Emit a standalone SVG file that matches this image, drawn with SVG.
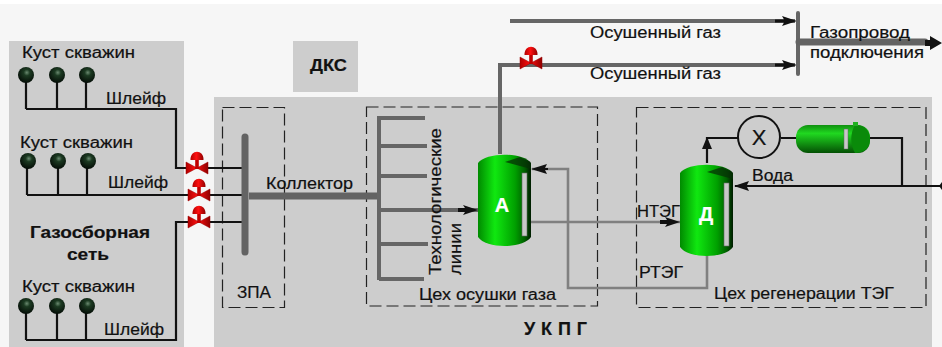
<svg xmlns="http://www.w3.org/2000/svg" width="942" height="347" viewBox="0 0 942 347">
<style>
text{font-family:"Liberation Sans",Arial,sans-serif;font-size:16px;fill:#111;stroke:#111;stroke-width:.2}
.b{font-weight:bold}
.w{fill:#fff;stroke:#fff;font-size:20px}
.panel{fill:#cdcdcd}
.dash{fill:none;stroke:#222;stroke-width:1.2;stroke-dasharray:12 5}
.k{fill:none;stroke:#111;stroke-width:2.2}
.g{fill:none;stroke:#666;stroke-width:4}
.t{fill:none;stroke:#808080;stroke-width:2.6}
.bar{fill:none;stroke:#636363;stroke-width:7}
.ah{fill:#111}
</style>
<defs>
<radialGradient id="well" cx="0.55" cy="0.35" r="0.65"><stop offset="0" stop-color="#6a8a70"/><stop offset="0.3" stop-color="#1c3a22"/><stop offset="1" stop-color="#040c06"/></radialGradient>
<linearGradient id="cyl" x1="0" x2="1" y1="0" y2="0"><stop offset="0" stop-color="#008a00"/><stop offset="0.32" stop-color="#10e810"/><stop offset="0.7" stop-color="#00a000"/><stop offset="0.88" stop-color="#006000"/><stop offset="1" stop-color="#001c00"/></linearGradient>
<linearGradient id="hor" x1="0" x2="0" y1="0" y2="1"><stop offset="0" stop-color="#109010"/><stop offset="0.3" stop-color="#20d820"/><stop offset="1" stop-color="#045004"/></linearGradient>
<linearGradient id="red" x1="0" x2="1" y1="0" y2="0"><stop offset="0" stop-color="#b00000"/><stop offset="0.45" stop-color="#ff1010"/><stop offset="1" stop-color="#900000"/></linearGradient>
<symbol id="valve" overflow="visible"><path d="M-11 -6L0 0 11 -6V6L0 0-11 6Z" fill="url(#red)" stroke="#900" stroke-width=".5"/><rect x="-1.800" y="-9" width="3.600" height="10" fill="#c00000"/><path d="M-6.500 -8C-7 -19 7 -19 6.500 -8Z" fill="url(#red)"/></symbol>
<symbol id="wellhead" overflow="visible"><circle r="8" fill="url(#well)"/></symbol>
<symbol id="vessel" overflow="visible"><path d="M0 8C8 -3 45 -3 53 8V82C45 94 8 94 0 82Z" fill="url(#cyl)"/><path d="M27 7L42 2 53 8V14Z" fill="#063006" opacity=".75"/><rect x="44" y="18" width="5" height="63" fill="#c8c8c8" stroke="#666" stroke-width=".6"/></symbol>
</defs>
<rect width="942" height="347" fill="#fff"/>
<rect y="4" width="942" height="343" fill="#f6f6f6"/>
<g id="panels">
<rect class="panel" x="9" y="41" width="175" height="306"/>
<rect class="panel" x="293" y="41" width="65" height="51"/>
<rect class="panel" x="214" y="97" width="718" height="250"/>
<rect class="dash" x="222.500" y="107.500" width="62" height="200"/>
<rect class="dash" x="366.500" y="107" width="231" height="199"/>
<rect class="dash" x="636.500" y="107.500" width="289.500" height="200"/>
</g>
<g id="connectors">
<path class="k" d="M26 75V109M57 75V109M86 75V109M26 109H176V168H243"/>
<path class="k" d="M27 161V195M58 161V195M87 161V195M27 195H243"/>
<path class="k" d="M26 306V340M57 306V340M86 306V340M26 340H176V222H245"/>
<path class="bar" style="stroke-linecap:round" d="M245 137V252"/>
<path class="bar" d="M249 196H378"/>
<path class="g" d="M379 116V280M379 118H425M379 146H427M379 176H427M379 244H428M379 279H424"/>
<path class="g" d="M379 210H478"/>
<path class="ah" d="M478 210L463 205 465 208H458V212H465L463 215Z"/>
<path class="g" d="M500 154V65H795"/>
<path class="g" d="M510 21H795"/>
<path class="ah" d="M797 21L782 16 784 19.500H775V22.500H784L782 26Z"/>
<path class="ah" d="M797 65L782 60 784 63.500H775V66.500H784L782 70Z"/>
<path class="g" style="stroke-linecap:round" d="M798 13V74"/>
<path class="bar" style="stroke-linecap:round" d="M799 42H925"/>
<path class="ah" d="M942 43L930 36V40H925V46H930V50Z"/>
<path class="t" d="M531 222H680"/>
<path class="t" d="M707 255V288H568V169H532"/>
<path class="ah" d="M531 169L547 164 545 168H548V170H545L547 174Z"/>
<path class="ah" d="M680 222L665 217 667 220H660V224H667L665 227Z"/>
<path class="k" d="M707 163V138H738M781 138H796M870 138H902V186"/>
<path class="ah" d="M707 137L702 149H712Z"/>
<path class="k" d="M942 186H735"/>
<path class="ah" d="M734 186L749 181 747 185V187L749 191Z"/>
<path class="ah" d="M942 182L939 186 942 190Z"/>
</g>
<g id="well-1"><use href="#wellhead" x="26" y="75"/><use href="#wellhead" x="57" y="75"/><use href="#wellhead" x="87" y="75"/></g>
<g id="well-2"><use href="#wellhead" x="28" y="161"/><use href="#wellhead" x="58" y="161"/><use href="#wellhead" x="88" y="161"/></g>
<g id="well-3"><use href="#wellhead" x="26" y="306"/><use href="#wellhead" x="57" y="306"/><use href="#wellhead" x="87" y="306"/></g>
<g id="valve-1"><use href="#valve" x="197" y="168"/></g>
<g id="valve-2"><use href="#valve" x="199" y="195"/></g>
<g id="valve-3"><use href="#valve" x="199" y="222"/></g>
<g id="valve-4"><use href="#valve" x="531" y="63"/></g>
<g id="vessel-a"><use href="#vessel" x="478" y="155"/><text x="502" y="212" text-anchor="middle" class="b w">А</text></g>
<g id="vessel-d"><use href="#vessel" x="680" y="165"/><text x="706" y="221" text-anchor="middle" class="b w">Д</text></g>
<g id="cooler"><circle cx="759" cy="137" r="21" fill="#cdcdcd" stroke="#111" stroke-width="2"/><text x="759" y="145" text-anchor="middle" style="font-size:22px">Х</text></g>
<g id="tank"><rect x="796" y="125" width="74" height="28" rx="12" fill="url(#hor)"/><path d="M855 125C866 125 870 132 870 139S866 153 855 153C850 145 850 133 855 125Z" fill="#0a8a0a"/><rect x="844" y="129" width="4" height="20" fill="#c8c8c8" stroke="#666" stroke-width=".5"/><rect x="853" y="122" width="5" height="4" fill="#20b020"/></g>
<g id="labels">
<text x="22" y="58" textLength="113" lengthAdjust="spacingAndGlyphs">Куст скважин</text>
<text x="20" y="148" textLength="113" lengthAdjust="spacingAndGlyphs">Куст скважин</text>
<text x="22" y="292" textLength="113" lengthAdjust="spacingAndGlyphs">Куст скважин</text>
<text x="106" y="104" textLength="60" lengthAdjust="spacingAndGlyphs">Шлейф</text>
<text x="108" y="188" textLength="60" lengthAdjust="spacingAndGlyphs">Шлейф</text>
<text x="104" y="335" textLength="60" lengthAdjust="spacingAndGlyphs">Шлейф</text>
<text x="30" y="238" class="b" style="font-size:17px" textLength="120" lengthAdjust="spacingAndGlyphs">Газосборная</text>
<text x="67" y="260" class="b" style="font-size:17px" textLength="42" lengthAdjust="spacingAndGlyphs">сеть</text>
<text x="310" y="71" class="b" textLength="37" lengthAdjust="spacingAndGlyphs">ДКС</text>
<text x="237" y="298" textLength="34" lengthAdjust="spacingAndGlyphs">ЗПА</text>
<text x="266" y="189" textLength="87" lengthAdjust="spacingAndGlyphs">Коллектор</text>
<text x="441" y="275" transform="rotate(-90 441 275)" textLength="147" lengthAdjust="spacingAndGlyphs">Технологические</text>
<text x="461" y="275" transform="rotate(-90 461 275)" textLength="52" lengthAdjust="spacingAndGlyphs">линии</text>
<text x="419" y="300" textLength="137" lengthAdjust="spacingAndGlyphs">Цех осушки газа</text>
<text x="524" y="335" class="b" style="font-size:18px" textLength="63" lengthAdjust="spacing">УКПГ</text>
<text x="590" y="38" textLength="131" lengthAdjust="spacingAndGlyphs">Осушенный газ</text>
<text x="590" y="79" textLength="131" lengthAdjust="spacingAndGlyphs">Осушенный газ</text>
<text x="810" y="38" textLength="100" lengthAdjust="spacingAndGlyphs">Газопровод</text>
<text x="810" y="58" textLength="114" lengthAdjust="spacingAndGlyphs">подключения</text>
<text x="637" y="217" textLength="43" lengthAdjust="spacingAndGlyphs">НТЭГ</text>
<text x="639" y="278" textLength="44" lengthAdjust="spacingAndGlyphs">РТЭГ</text>
<text x="752" y="181" textLength="41" lengthAdjust="spacingAndGlyphs">Вода</text>
<text x="714" y="299" textLength="180" lengthAdjust="spacingAndGlyphs">Цех регенерации ТЭГ</text>
</g>
</svg>
